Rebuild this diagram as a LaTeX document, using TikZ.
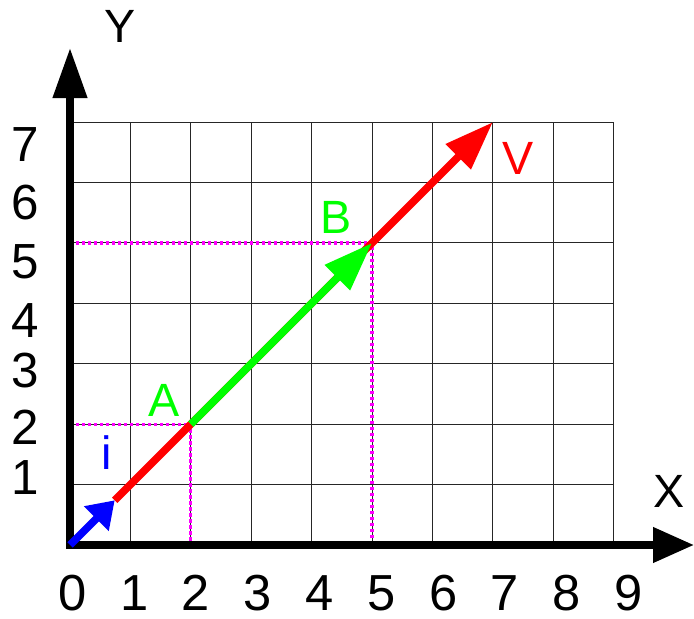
\documentclass[tikz,border=0pt]{standalone}
\usepackage{fontspec}
\setmainfont{Liberation Sans}
\usetikzlibrary{arrows.meta}
\definecolor{vred}{RGB}{255,0,0}
\definecolor{vgreen}{RGB}{0,255,0}
\definecolor{vblue}{RGB}{0,0,255}
\definecolor{guidemag}{RGB}{255,0,255}

\begin{document}
\begin{tikzpicture}[x=45.3pt, y=45.3pt,
    axis/.style={line width=5.6pt},
    vec/.style={line width=5.6pt, -{Triangle[length=36.75pt,width=25.5pt]}},
    guide/.style={guidemag, line width=2.4pt, dash pattern=on 2.6pt off 1.9pt},
    num/.style={inner sep=0pt, font=\fontsize{37}{37}\selectfont},
    lbl/.style={inner sep=0pt, font=\fontsize{35}{35}\selectfont}]
\useasboundingbox (-1.159,-1.209) rectangle (10.331,9.023);

% points
\coordinate (O) at (0,0);
\coordinate (I) at (0.74,0.74);
\coordinate (A) at (2,2);
\coordinate (B) at (5,5);
\coordinate (V) at (7,7);
\coordinate (Xend) at (10.331,0);
\coordinate (Yend) at (0,8.228);

% grid
\draw[line width=0.75pt, black!85, step={(1,1)}] (O) grid (9,7);

% projections
\draw[guide] (O |- A) -- (A) -- (A |- O);
\draw[guide] (O |- B) -- (B) -- (B |- O);

% axes
\draw[axis, -{Triangle[length=30.75pt,width=25.5pt]}] ([xshift=-2.8pt]O) -- (Xend);
\draw[axis, -{Triangle[length=37.5pt,width=24.75pt]}] ([yshift=-2.8pt]O) -- (Yend);
\node[lbl] (xname) at (9.925,0.894) {X};
\node[lbl] (yname) at (0.828,8.593) {Y};

% ticks
\foreach \n in {0,...,9}
  \node[num, font=\fontsize{38}{38}\selectfont] (xl\n) at (0.041+1.023*\n,-0.795) {\n};
\foreach \n/\y in {1/1.109, 2/1.954, 3/2.881, 4/3.709, 5/4.685, 6/5.662, 7/6.631}
  \node[num] (yl\n) at (-0.745,\y) {\n};

% vectors
\draw[vec, vred] (I) -- (V);
\draw[vec, vgreen] (A) -- (B);
\draw[vblue, line width=5.6pt, -{Triangle[length=19.5pt,width=25pt]}] (O) -- (I);

\node[lbl, vgreen] (labA) at (1.556,2.40) {A};
\node[lbl, vgreen] (labB) at (4.412,5.422) {B};
\node[lbl, vred] (labV) at (7.417,6.407) {V};
\node[lbl, vblue] (labi) at (0.604,1.523) {i};
\end{tikzpicture}
\end{document}
